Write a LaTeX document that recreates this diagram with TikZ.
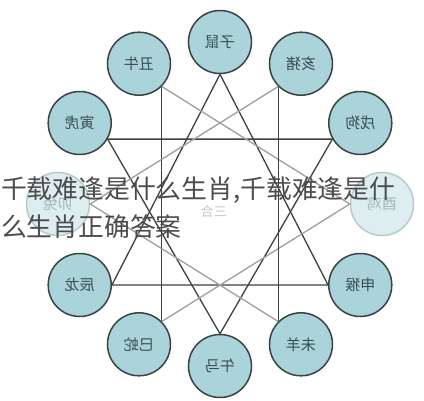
\documentclass[tikz,border=0pt]{standalone}
\usepackage{graphicx}
\usepackage{fontspec}
\usepackage{tikz}
\newfontfamily\cjk{Noto Sans CJK SC}
\definecolor{ballfill}{RGB}{170,212,218}
\definecolor{balledge}{RGB}{58,66,68}
\definecolor{balltext}{RGB}{58,78,84}
\definecolor{fadefill}{RGB}{222,238,240}
\definecolor{fadeedge}{RGB}{185,202,204}
\definecolor{fadetext}{RGB}{165,185,190}
\newcommand{\flip}[1]{\reflectbox{#1}}
\tikzset{sign/.style={circle, draw=balledge, fill=ballfill, line width=1.5pt,
    minimum size=63pt, inner sep=0pt, text=balltext, font=\cjk\fontsize{15}{15}\selectfont}}
\tikzset{faded/.style={sign, draw=fadeedge, fill=fadefill, text=fadetext}}
\tikzset{link/.style={line width=1.3pt, draw=balledge}}
\tikzset{dimlink/.style={line width=1.3pt, draw=gray!75}}

\begin{document}
\begin{tikzpicture}[x=1pt,y=1pt]
		\useasboundingbox (-220,-196) rectangle (204,204);
		\fill[white] (-220,-196) rectangle (204,204);
		\node[sign] (zi) at (90:162) {\flip{子鼠}};
		\node[sign] (chou) at (120:162) {\flip{丑牛}};
		\node[sign] (yin) at (150:162) {\flip{寅虎}};
		\node[faded] (mao) at (180:162) {\flip{卯兔}};
		\node[sign] (chen) at (210:162) {\flip{辰龙}};
		\node[sign] (si) at (240:162) {\flip{巳蛇}};
		\node[sign] (wu) at (270:162) {\flip{午马}};
		\node[sign] (wei) at (300:162) {\flip{未羊}};
		\node[sign] (shen) at (330:162) {\flip{申猴}};
		\node[faded] (you) at (0:162) {\flip{酉鸡}};
		\node[sign] (xu) at (30:162) {\flip{戌狗}};
		\node[sign] (hai) at (60:162) {\flip{亥猪}};
		\draw[link] (zi.270) -- (chen.0) -- (shen.180) -- cycle;
		\draw[link] (yin.330) -- (wu.90) -- (xu.210) -- cycle;
		\draw[link] (chou.315) -- (si.45);
		\draw[dimlink] (si.45) -- (you.180) -- (chou.315);
		\draw[link] (hai.225) -- (wei.135);
		\draw[dimlink] (wei.135) -- (mao.0) -- (hai.225);
		\node[text=gray!45, font=\cjk\fontsize{13}{13}\selectfont] (sanhe) at (-6,-8) {\flip{三合}};
		\node[anchor=north west, inner sep=0pt, align=left, text=black!70,
		  font=\cjk\fontsize{25.8}{38}\selectfont] (caption) at (-219,27)
		  {千载难逢是什么生肖,千载难逢是什\\么生肖正确答案};
\end{tikzpicture}
\end{document}
